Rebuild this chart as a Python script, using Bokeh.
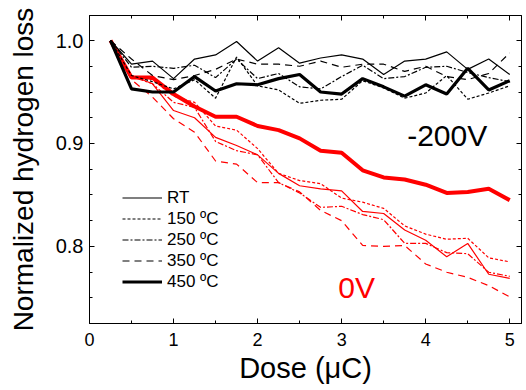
from bokeh.plotting import figure
from bokeh.models import (LinearAxis, Legend, LegendItem, Label, FixedTicker,
                          Range1d, NumeralTickFormatter)
from bokeh.embed import file_html
from bokeh.resources import INLINE

# ---------------- data ----------------
dose = [0.25, 0.5, 0.75, 1.0, 1.25, 1.5, 1.75, 2.0, 2.25, 2.5,
        2.75, 3.0, 3.25, 3.5, 3.75, 4.0, 4.25, 4.5, 4.75, 5.0]

# -200 V bias (black)
m200_RT = [1.000, 0.977, 0.980, 0.963, 0.982, 0.986, 0.999, 0.980, 0.993, 0.978,
           0.983, 0.986, 0.982, 0.967, 0.980, 0.982, 0.989, 0.972, 0.982, 0.967]
m200_150 = [1.000, 0.966, 0.960, 0.953, 0.962, 0.944, 0.984, 0.956, 0.952, 0.939,
            0.942, 0.943, 0.961, 0.954, 0.944, 0.949, 0.966, 0.943, 0.949, 0.956]
m200_250 = [1.000, 0.974, 0.975, 0.973, 0.976, 0.964, 0.982, 0.963, 0.968, 0.955,
            0.953, 0.965, 0.976, 0.963, 0.965, 0.974, 0.975, 0.969, 0.964, 0.960]
m200_350 = [1.000, 0.982, 0.966, 0.962, 0.966, 0.972, 0.982, 0.977, 0.977, 0.975,
            0.980, 0.974, 0.977, 0.977, 0.970, 0.975, 0.965, 0.962, 0.968, 0.988]
m200_450 = [1.000, 0.953, 0.950, 0.950, 0.965, 0.951, 0.958, 0.957, 0.963, 0.967,
            0.950, 0.948, 0.963, 0.955, 0.946, 0.957, 0.948, 0.973, 0.952, 0.961]

# 0 V bias (red)
v0_RT = [1.000, 0.966, 0.958, 0.932, 0.925, 0.906, 0.898, 0.889, 0.871, 0.859,
         0.856, 0.854, 0.834, 0.832, 0.816, 0.806, 0.790, 0.803, 0.773, 0.769]
v0_150 = [1.000, 0.965, 0.962, 0.946, 0.940, 0.917, 0.913, 0.895, 0.871, 0.864,
          0.861, 0.847, 0.843, 0.837, 0.820, 0.812, 0.807, 0.808, 0.789, 0.785]
v0_250 = [1.000, 0.965, 0.958, 0.940, 0.935, 0.902, 0.893, 0.889, 0.862, 0.852,
          0.838, 0.839, 0.831, 0.826, 0.803, 0.803, 0.794, 0.793, 0.775, 0.771]
v0_350 = [1.000, 0.962, 0.945, 0.924, 0.911, 0.883, 0.880, 0.862, 0.862, 0.853,
          0.835, 0.825, 0.801, 0.800, 0.801, 0.783, 0.775, 0.770, 0.762, 0.751]
v0_450 = [1.000, 0.964, 0.964, 0.948, 0.936, 0.926, 0.926, 0.917, 0.913, 0.905,
          0.893, 0.891, 0.874, 0.867, 0.865, 0.860, 0.852, 0.853, 0.856, 0.845]

series_labels = ["RT", "150 \u00baC", "250 \u00baC", "350 \u00baC", "450 \u00baC"]

x_major = [0, 1, 2, 3, 4, 5]
x_minor = [0.5, 1.5, 2.5, 3.5, 4.5]
y_major = [0.8, 0.9, 1.0]
y_minor = [0.75, 0.775, 0.825, 0.85, 0.875, 0.925, 0.95, 0.975]

annot_text = ["-200V", "0V"]
annot_x = [3.78, 2.96]
annot_y = [0.908, 0.760]
annot_color = ["black", "#ff0000"]

x_title = "Dose (\u03bcC)"
y_title = "Normalized hydrogen loss"

# ---------------- styles ----------------
dashes = ["solid", "3 2", "6 2 2 2", "7 5", "solid"]
widths_black = [1.2, 1.2, 1.2, 1.2, 3.2]
widths_red = [1.2, 1.2, 1.2, 1.2, 4.0]
FONT = "Liberation Sans"

p = figure(width=524, height=388, output_backend="svg", toolbar_location=None,
           x_range=Range1d(0, 5.14), y_range=Range1d(0.7252, 1.0243),
           min_border_left=89, min_border_right=3, min_border_top=15,
           min_border_bottom=65)

p.xgrid.visible = False
p.ygrid.visible = False
p.outline_line_color = "black"
p.outline_line_width = 1
p.background_fill_color = "white"
p.border_fill_color = "white"

red_series = [v0_RT, v0_150, v0_250, v0_350, v0_450]
black_series = [m200_RT, m200_150, m200_250, m200_350, m200_450]

for ys, d, w in zip(red_series, dashes, widths_red):
    p.line(dose, ys, line_color="#ff0000", line_width=w, line_dash=d)

black_renderers = []
for ys, d, w in zip(black_series, dashes, widths_black):
    r = p.line(dose, ys, line_color="black", line_width=w, line_dash=d)
    black_renderers.append(r)

legend = Legend(items=[LegendItem(label=l, renderers=[r])
                       for l, r in zip(series_labels, black_renderers)],
                location=(33, 31), orientation="vertical",
                padding=0, margin=0, spacing=0,
                label_height=21, glyph_height=21, glyph_width=40,
                label_standoff=5, label_text_font=FONT,
                label_text_font_size="17px", label_text_color="black",
                background_fill_alpha=0, border_line_alpha=0)
p.add_layout(legend)

for t, ax_, ay_, c in zip(annot_text, annot_x, annot_y, annot_color):
    p.add_layout(Label(x=ax_, y=ay_, text=t, text_color=c, text_font=FONT,
                       text_font_size="30px", text_baseline="alphabetic",
                       text_align="left"))

xt = FixedTicker(ticks=x_major, minor_ticks=x_minor)
yt = FixedTicker(ticks=y_major, minor_ticks=y_minor)


def style_axis(ax, labels=True):
    ax.axis_line_color = "black"
    ax.major_tick_line_color = "black"
    ax.minor_tick_line_color = "black"
    ax.major_tick_in = 5
    ax.major_tick_out = 0
    ax.minor_tick_in = 3
    ax.minor_tick_out = 0
    if not labels:
        ax.major_label_text_color = None
        ax.major_label_text_alpha = 0
        ax.major_label_text_font_size = "1px"
        ax.major_label_standoff = 0


xa = p.xaxis[0]
xa.ticker = xt
style_axis(xa)
xa.axis_label = x_title
xa.axis_label_text_font = FONT
xa.axis_label_text_font_size = "29px"
xa.axis_label_text_font_style = "normal"
xa.axis_label_text_color = "black"
xa.axis_label_standoff = 3
xa.major_label_text_font = FONT
xa.major_label_text_font_size = "18px"
xa.major_label_text_color = "black"
xa.major_label_standoff = 9

ya = p.yaxis[0]
ya.ticker = yt
ya.formatter = NumeralTickFormatter(format="0.0")
style_axis(ya)
ya.axis_label = y_title
ya.axis_label_text_font = FONT
ya.axis_label_text_font_size = "28px"
ya.axis_label_text_font_style = "normal"
ya.axis_label_text_color = "black"
ya.axis_label_standoff = 14
ya.major_label_text_font = FONT
ya.major_label_text_font_size = "20px"
ya.major_label_text_color = "black"
ya.major_label_standoff = 6

top = LinearAxis(ticker=FixedTicker(ticks=x_major, minor_ticks=x_minor))
style_axis(top, labels=False)
p.add_layout(top, "above")
right = LinearAxis(ticker=FixedTicker(ticks=y_major, minor_ticks=y_minor))
style_axis(right, labels=False)
p.add_layout(right, "right")

open("out.html", "w").write(file_html(p, INLINE))
